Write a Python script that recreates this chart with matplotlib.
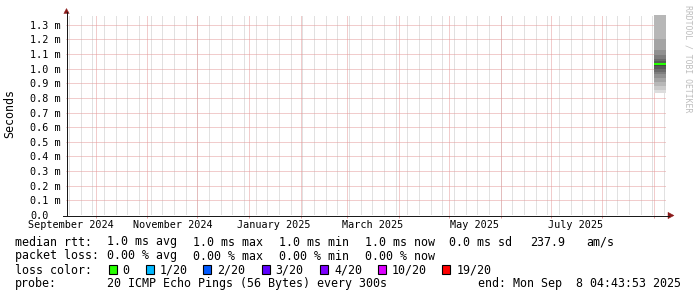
import matplotlib
matplotlib.use('Agg')
import matplotlib.pyplot as plt
import matplotlib.dates as mdates
from matplotlib.patches import Polygon, Rectangle
from matplotlib.lines import Line2D
from matplotlib.transforms import IdentityTransform
from matplotlib.ticker import FixedLocator, FixedFormatter, NullFormatter
from datetime import datetime, timedelta

W, H, DPI = 697, 297, 100
MONO = 'DejaVu Sans Mono'

# ---------------- data ----------------
start_time = datetime(2024, 9, 13, 4, 43, 53)
end_time = datetime(2025, 9, 8, 4, 43, 53)
smoke_times = [datetime(2025, 9, 1, 0, 0, 0), end_time]
# 20 sorted ping round-trip times (ms)
pings_ms = [0.83, 0.855, 0.88, 0.91, 0.935, 0.96, 0.98, 1.00, 1.015, 1.025,
            1.035, 1.04, 1.05, 1.065, 1.09, 1.13, 1.20, 1.45, 1.62, 1.95]
median_ms = 1.03
y_max = 1.366
y_ticks = [0.0, 0.1, 0.2, 0.3, 0.4, 0.5, 0.6, 0.7, 0.8, 0.9, 1.0, 1.1, 1.2, 1.3]
x_labels = ['September 2024', 'November 2024', 'January 2025',
            'March 2025', 'May 2025', 'July 2025']
x_label_dates = [datetime(2024, 9, 16), datetime(2024, 11, 16), datetime(2025, 1, 16),
                 datetime(2025, 3, 16), datetime(2025, 5, 16), datetime(2025, 7, 16)]
month_starts = [datetime(2024, 10, 1), datetime(2024, 11, 1), datetime(2024, 12, 1),
                datetime(2025, 1, 1), datetime(2025, 2, 1), datetime(2025, 3, 1),
                datetime(2025, 4, 1), datetime(2025, 5, 1), datetime(2025, 6, 1),
                datetime(2025, 7, 1), datetime(2025, 8, 1), datetime(2025, 9, 1)]
first_week = datetime(2024, 9, 15)

rtt_stats = ['1.0 ms avg', '1.0 ms max', '1.0 ms min', '1.0 ms now', '0.0 ms sd', '237.9', 'am/s']
loss_stats = ['0.00 % avg', '0.00 % max', '0.00 % min', '0.00 % now']
loss_labels = ['0', '1/20', '2/20', '3/20', '4/20', '10/20', '19/20']
loss_colors = ['#26ff00', '#00b8ff', '#0059ff', '#5e00ff', '#7e00ff', '#dd00ff', '#ff0000']
probe_text = '20 ICMP Echo Pings (56 Bytes) every 300s'
end_text = 'end: Mon Sep  8 04:43:53 2025'

# ---------------- figure ----------------
fig = plt.figure(figsize=(W / DPI, H / DPI), dpi=DPI)
fig.patch.set_facecolor('white')

PLOT_L, PLOT_R, PLOT_T, PLOT_B = 66, 666, 15, 215
ax = fig.add_axes([PLOT_L / W, (H - PLOT_B) / H, (PLOT_R - PLOT_L) / W, (PLOT_B - PLOT_T) / H])
ax.set_facecolor('white')
for s in ax.spines.values():
    s.set_visible(False)

ax.set_xlim(mdates.date2num(start_time), mdates.date2num(end_time))
ax.set_ylim(0, y_max)

MGRID = '#e59a9a'
GRID = '#c4c4c4'
dots = (0, (1, 1))

# weekly minor grid
weeks = []
t = first_week
while t < end_time:
    weeks.append(mdates.date2num(t))
    t += timedelta(days=7)
ax.vlines(weeks, 0, 1, transform=ax.get_xaxis_transform(), colors=GRID,
          linestyles=dots, linewidth=0.72, zorder=0.5, snap=True)

# monthly major grid + ticks
ax.xaxis.set_major_locator(FixedLocator(mdates.date2num(month_starts)))
ax.xaxis.set_major_formatter(NullFormatter())
ax.xaxis.grid(True, which='major', color=MGRID, linestyle=dots, linewidth=0.72,
              zorder=0.6, snap=True)
ax.tick_params(axis='x', which='major', length=2.2, width=0.72, color=MGRID, direction='out')

# labels at mid-month
ax.xaxis.set_minor_locator(FixedLocator(mdates.date2num(x_label_dates)))
ax.xaxis.set_minor_formatter(FixedFormatter(x_labels))
ax.tick_params(axis='x', which='minor', length=0, pad=3.3, labelsize=7.3)
for lab in ax.xaxis.get_minorticklabels():
    lab.set_family(MONO)

ax.set_yticks(y_ticks)
ax.set_yticklabels(['0.0' if v == 0 else '%.1f m' % v for v in y_ticks])
ax.yaxis.grid(True, color=MGRID, linestyle=dots, linewidth=0.72, zorder=0.6, snap=True)
ax.tick_params(axis='y', length=0, pad=26.0, labelsize=7.3)
for lab in ax.get_yticklabels():
    lab.set_family(MONO)
    lab.set_horizontalalignment('left')
ax.set_axisbelow(True)

# smoke
half = len(pings_ms) // 2
xs = mdates.date2num(smoke_times)
for i in range(1, half + 1):
    c = int(190 / half * (half - i)) + 50
    col = '#%02x%02x%02x' % (c, c, c)
    ax.fill_between(xs, [pings_ms[i - 1]] * 2, [pings_ms[len(pings_ms) - i]] * 2,
                    color=col, linewidth=0, zorder=2, step='post')
ax.plot(xs, [median_ms] * 2, color=loss_colors[0], linewidth=1.5, zorder=3,
        solid_capstyle='butt')

# ---------------- axis lines and arrows (pixel coords) ----------------
ID = IdentityTransform()
def P(x, y):
    return (x, H - y)

AX_COL = '#1a1a1a'
ARROW = '#8b1a1a'
fig.add_artist(Line2D([66.5, 66.5], [P(0, 215.5)[1], P(0, 12)[1]],
                      color=AX_COL, linewidth=0.72, transform=ID))
fig.add_artist(Line2D([63, 669], [P(0, 215.5)[1]] * 2,
                      color=AX_COL, linewidth=0.72, transform=ID))
fig.add_artist(Polygon([P(66.5, 8.5), P(63.8, 13.5), P(69.2, 13.5)], closed=True,
                       facecolor=ARROW, edgecolor=ARROW, linewidth=0.3, transform=ID))
fig.add_artist(Polygon([P(674, 215.5), P(668, 212.3), P(668, 218.7)], closed=True,
                       facecolor=ARROW, edgecolor=ARROW, linewidth=0.3, transform=ID))

# ---------------- texts ----------------
FS = 8.37
def T(x, y, s, **kw):
    kw.setdefault('fontsize', FS)
    kw.setdefault('family', MONO)
    kw.setdefault('color', 'black')
    kw.setdefault('va', 'baseline')
    kw.setdefault('ha', 'left')
    fig.text(x / W, 1 - y / H, s, **kw)

T(10, 114, 'Seconds', rotation=90, ha='center', va='center')
T(688, 5, 'RRDTOOL / TOBI OETIKER', rotation=270, ha='center', va='top',
  fontsize=5.9, color='#bdbdbd')

line_y = [245.5, 259.5, 273.5, 287.5]
T(15.3, line_y[0], 'median rtt:')
for x, s in zip([106.6, 192.6, 278.6, 365.0, 449.3, 530.0, 586.0], rtt_stats):
    T(x, line_y[0], s)
T(15.3, line_y[1], 'packet loss:')
for x, s in zip([106.6, 192.6, 278.6, 365.0], loss_stats):
    T(x, line_y[1], s)
T(15.3, line_y[2], 'loss color:')
box_x = [108.5, 145.5, 203.0, 261.5, 320.0, 377.5, 442.0]
for bx, lab, col in zip(box_x, loss_labels, loss_colors):
    x0, y0 = P(bx, 274)
    fig.add_artist(Rectangle((x0, y0), 8, 9, facecolor=col, edgecolor='black',
                             linewidth=0.8, transform=ID))
    T(bx + 14.2, line_y[2], lab)
T(15.3, line_y[3], 'probe:')
T(106.6, line_y[3], probe_text)
T(477.6, line_y[3], end_text)

fig.savefig('out.png', dpi=DPI, facecolor='white')
